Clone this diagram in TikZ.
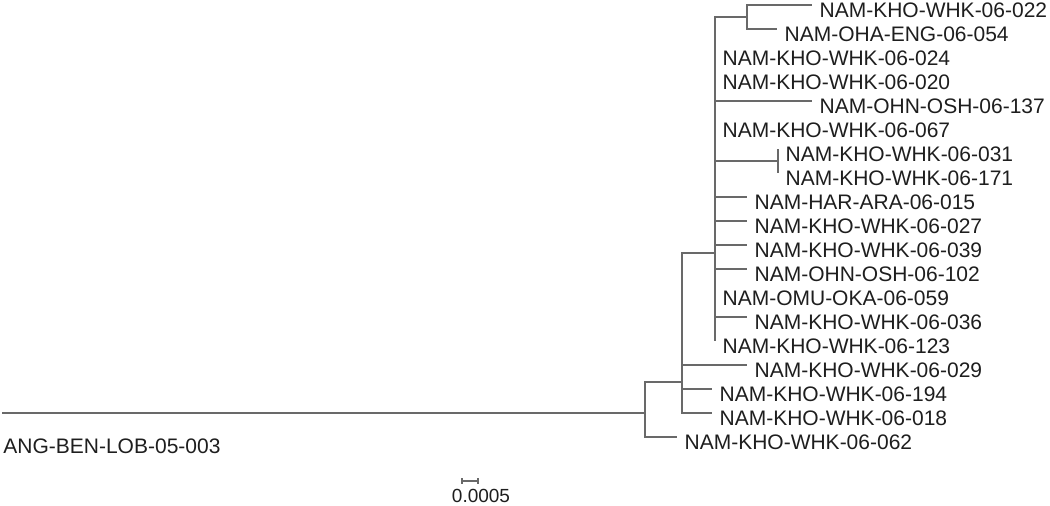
\documentclass[tikz,border=0pt]{standalone}
\usepackage{fontspec}
\setmainfont{Liberation Sans}
\definecolor{branchgray}{RGB}{105,105,105}
\definecolor{labelgray}{RGB}{30,30,30}

\begin{document}
\begin{tikzpicture}[x=0.5pt, y=-0.5pt,
  branch/.style={draw=branchgray, line width=0.7pt},
  tiplabel/.style={anchor=base west, inner sep=0pt, text=labelgray,
    font=\fontsize{10.5}{12}\selectfont},
  leaf/.style={tiplabel, xshift=3.6pt, yshift=-6.5pt}]
  \useasboundingbox (0,0) rectangle (1050,506);
  % inner nodes
  \coordinate (root) at (645,413);
  \coordinate (n1) at (682,382);
  \coordinate (n2) at (715,253);
  \coordinate (n3) at (747,17);
  \coordinate (n4) at (778,161);
  % tips
  \coordinate (t003) at (2,413);
  \coordinate (t022) at (812,5);
  \coordinate (t054) at (777,29);
  \coordinate (t024) at (715,53);
  \coordinate (t020) at (715,77);
  \coordinate (t137) at (812,101);
  \coordinate (t067) at (715,125);
  \coordinate (t031) at (778,149);
  \coordinate (t171) at (778,173);
  \coordinate (t015) at (747,197);
  \coordinate (t027) at (747,221);
  \coordinate (t039) at (747,245);
  \coordinate (t102) at (747,269);
  \coordinate (t059) at (715,293);
  \coordinate (t036) at (747,317);
  \coordinate (t123) at (715,341);
  \coordinate (t029) at (747,365);
  \coordinate (t194) at (712,389);
  \coordinate (t018) at (712,413);
  \coordinate (t062) at (677,437);

  \node[tiplabel] (l003) at (3,454) {ANG-BEN-LOB-05-003};
  \node[leaf] (l022) at (t022) {NAM-KHO-WHK-06-022};
  \node[leaf] (l054) at (t054) {NAM-OHA-ENG-06-054};
  \node[leaf] (l024) at (t024) {NAM-KHO-WHK-06-024};
  \node[leaf] (l020) at (t020) {NAM-KHO-WHK-06-020};
  \node[leaf] (l137) at (t137) {NAM-OHN-OSH-06-137};
  \node[leaf] (l067) at (t067) {NAM-KHO-WHK-06-067};
  \node[leaf] (l031) at (t031) {NAM-KHO-WHK-06-031};
  \node[leaf] (l171) at (t171) {NAM-KHO-WHK-06-171};
  \node[leaf] (l015) at (t015) {NAM-HAR-ARA-06-015};
  \node[leaf] (l027) at (t027) {NAM-KHO-WHK-06-027};
  \node[leaf] (l039) at (t039) {NAM-KHO-WHK-06-039};
  \node[leaf] (l102) at (t102) {NAM-OHN-OSH-06-102};
  \node[leaf] (l059) at (t059) {NAM-OMU-OKA-06-059};
  \node[leaf] (l036) at (t036) {NAM-KHO-WHK-06-036};
  \node[leaf] (l123) at (t123) {NAM-KHO-WHK-06-123};
  \node[leaf] (l029) at (t029) {NAM-KHO-WHK-06-029};
  \node[leaf] (l194) at (t194) {NAM-KHO-WHK-06-194};
  \node[leaf] (l018) at (t018) {NAM-KHO-WHK-06-018};
  \node[leaf] (l062) at (t062) {NAM-KHO-WHK-06-062};

  \draw[branch] (t003) -- (root);
  \foreach \c in {n1,t062} \draw[branch] (root) |- (\c);
  \foreach \c in {n2,t029,t194,t018} \draw[branch] (n1) |- (\c);
  \foreach \c in {n3,t024,t020,t137,t067,n4,t015,t027,t039,t102,t059,t036,t123}
    \draw[branch] (n2) |- (\c);
  \foreach \c in {t022,t054} \draw[branch] (n3) |- (\c);
  \foreach \c in {t031,t171} \draw[branch] (n4) |- (\c);

  % scale bar
  \coordinate (sbl) at (462,481);
  \coordinate (sbr) at (478,481);
  \draw[branch, line width=0.6pt] ([yshift=1.3pt]sbl) -- ([yshift=-1.3pt]sbl)
    (sbl) -- (sbr) ([yshift=1.3pt]sbr) -- ([yshift=-1.3pt]sbr);
  \node[tiplabel, anchor=base, font=\fontsize{9.5}{11}\selectfont] (sblabel) at (481,503) {0.0005};
\end{tikzpicture}
\end{document}
